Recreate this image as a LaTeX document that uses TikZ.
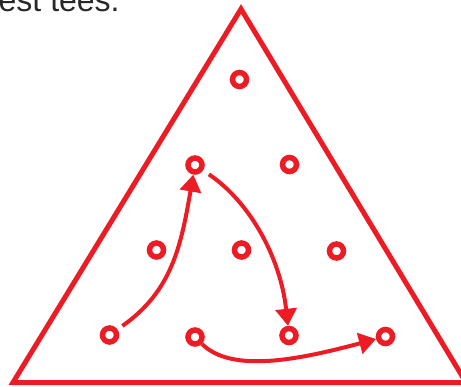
\documentclass[tikz,border=0pt]{standalone}
\usepackage{fontspec}
\setmainfont{Liberation Sans}
\usetikzlibrary{arrows.meta}
\definecolor{tred}{RGB}{237,28,36}
\definecolor{tgray}{RGB}{40,40,40}
\begin{document}
\begin{tikzpicture}[x=1pt,y=-1pt,
  hole/.style={circle,draw=tred,line width=5.5pt,minimum size=14pt,inner sep=0pt},
  flow/.style={draw=tred,line width=4pt,-{Triangle[length=17pt,width=21pt]}},
  frame/.style={draw=tred,line width=5pt,line join=miter}]
\clip (0,0) rectangle (461,386);
\draw[frame] (241,9) -- (13,382.5) -- (466,382.5) -- cycle;
\node[anchor=base west,inner sep=0pt,font=\fontsize{32}{38}\selectfont,text=tgray] (title) at (-1.5,11.5) {est tees.};
\node[hole] (A) at (239.5,79.5) {};
\node[hole] (B) at (195,165) {};
\node[hole] (C) at (289.5,164.5) {};
\node[hole] (D) at (156.5,250) {};
\node[hole] (E) at (241.5,250) {};
\node[hole] (F) at (336.5,251) {};
\node[hole] (G) at (109.5,335) {};
\node[hole] (H) at (195,337) {};
\node[hole] (I) at (289,335.5) {};
\node[hole] (J) at (385.5,336.5) {};
\draw[flow,shorten <=6pt] (G) .. controls (172,291) and (181,246) .. (B);
\draw[flow,shorten <=7pt] (B) .. controls (250,202) and (280.5,257.7) .. (I);
\draw[flow] (H) .. controls (232,374) and (301.4,359) .. (J);
\end{tikzpicture}
\end{document}
